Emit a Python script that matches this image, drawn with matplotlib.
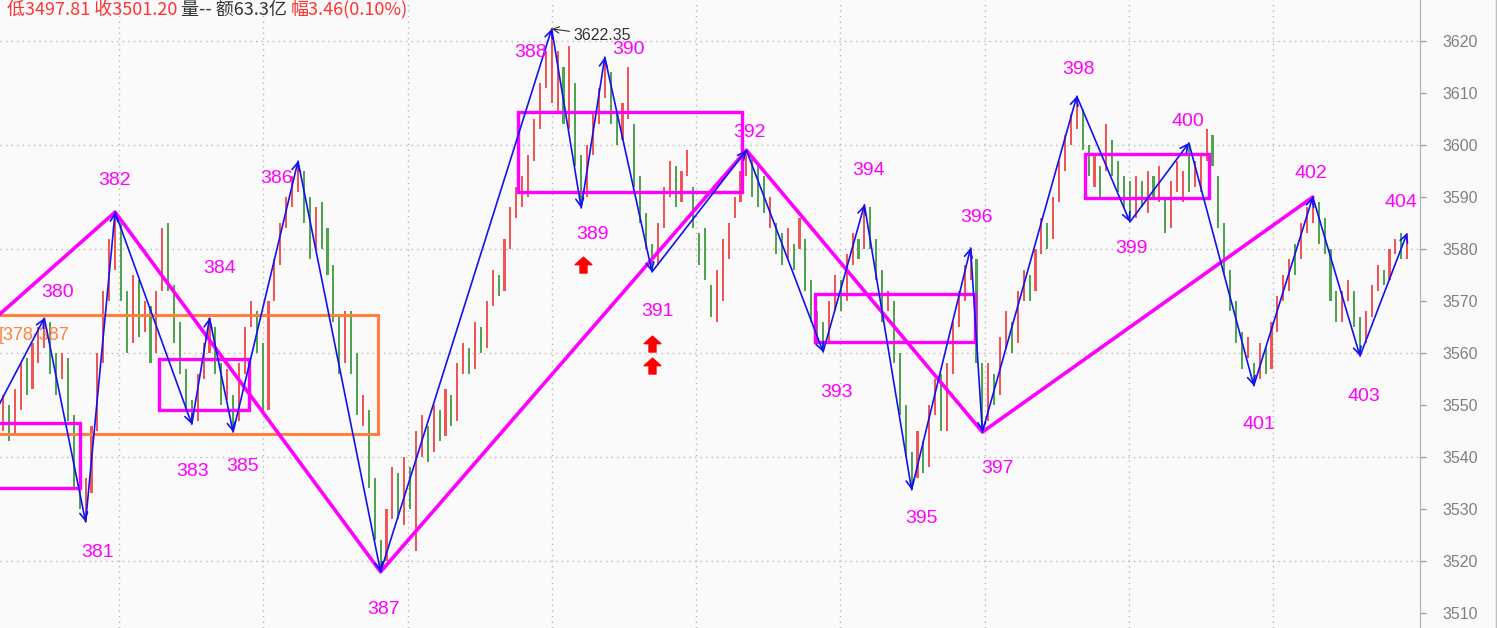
import matplotlib
matplotlib.use("Agg")
import matplotlib.pyplot as plt
from matplotlib.path import Path
from matplotlib.patches import Rectangle

plt.rcParams['font.family'] = ['Liberation Sans', 'DejaVu Sans']

# ---- price bars (open / close per bar) ----
opens = [
    3545, 3550, 3544, 3549, 3559, 3553, 3558, 3561,
    3566, 3560, 3555, 3559, 3548, 3537, 3527.5,
    3533, 3545, 3558, 3570, 3576,
    3585, 3572, 3562, 3574, 3564, 3569, 3560, 3572, 3585, 3573, 3566, 3557, 3551,
    3547, 3555, 3560, 3565, 3558, 3551, 3552,
    3547, 3556, 3565, 3568, 3562, 3549, 3570, 3577, 3584, 3588, 3591,
    3595, 3590, 3580, 3589, 3584, 3577, 3567, 3558, 3568, 3560, 3546, 3549, 3536, 3524,
    3520, 3528, 3537, 3527, 3538, 3522, 3540, 3546, 3541, 3549, 3544, 3552, 3547, 3556,
    3561, 3557, 3565, 3561, 3569, 3575, 3572, 3580, 3586, 3588, 3590, 3597, 3603, 3611, 3608,
    3606, 3615, 3603, 3612, 3598,
    3590, 3598, 3604, 3609,
    3614, 3606, 3601, 3605, 3604, 3594, 3587, 3581,
    3577, 3584, 3590, 3596, 3589, 3594, 3592, 3583, 3584, 3573, 3566, 3570, 3578, 3586, 3589, 3594,
    3598, 3596, 3594, 3584, 3585, 3583, 3578, 3581, 3580, 3582, 3574, 3568, 3566,
    3562, 3568, 3574, 3570, 3577, 3582, 3580,
    3588, 3582, 3576, 3568, 3570, 3560, 3550, 3541,
    3536, 3543, 3538, 3548, 3556, 3545, 3556, 3565, 3570, 3574,
    3578, 3558,
    3547, 3556, 3552, 3561, 3566, 3562, 3570, 3575, 3572, 3579, 3585, 3582, 3589, 3595, 3600, 3603,
    3607, 3600, 3592, 3596, 3595, 3601, 3597, 3594, 3593,
    3586, 3593, 3587, 3594, 3589, 3590, 3584, 3591, 3589, 3600.4,
    3592, 3591, 3597, 3602, 3594, 3585, 3576, 3570, 3564, 3559, 3558,
    3555, 3561, 3557, 3564, 3570, 3572, 3581, 3578, 3583, 3585,
    3589, 3586, 3580, 3572, 3566, 3570, 3572, 3567,
    3562, 3567, 3572, 3576, 3574, 3579, 3583, 3578,
]
closes = [
    3552, 3543, 3553, 3558, 3552, 3562, 3565, 3566.7,
    3556, 3552, 3560, 3547, 3534, 3530, 3536,
    3546, 3560, 3572, 3582, 3587.1,
    3570, 3560, 3575, 3563, 3570, 3558, 3572, 3584, 3572, 3562, 3556, 3549, 3546.3,
    3556, 3562, 3566.7, 3556, 3550, 3557, 3544.8,
    3558, 3565, 3570, 3560, 3548, 3570, 3578, 3585, 3590, 3594, 3596.9,
    3585, 3578, 3588, 3580, 3575, 3566, 3556, 3568, 3556, 3548, 3552, 3534, 3524, 3517.9,
    3530, 3538, 3528, 3540, 3530, 3545, 3548, 3539, 3550, 3543, 3553, 3546, 3558, 3562,
    3556, 3566, 3560, 3570, 3576, 3571, 3582, 3588, 3592, 3594, 3598, 3605, 3612, 3618, 3622.35,
    3618, 3604, 3619, 3596, 3587.9,
    3600, 3606, 3611, 3616.9,
    3604, 3600, 3608, 3615, 3592, 3585, 3580, 3575.6,
    3585, 3592, 3597, 3588, 3595, 3599, 3584, 3577, 3574, 3567, 3576, 3582, 3585, 3590, 3595, 3599.0,
    3590, 3588, 3587, 3590, 3579, 3577, 3584, 3576, 3586, 3572, 3566, 3562, 3560.2,
    3570, 3575, 3568, 3579, 3583, 3578, 3588.5,
    3580, 3574, 3566, 3572, 3558, 3548, 3540, 3533.7,
    3545, 3537, 3550, 3555, 3545, 3558, 3566, 3572, 3577, 3580.2,
    3558, 3544.8,
    3558, 3550, 3563, 3568, 3560, 3572, 3576, 3570, 3580, 3586, 3580, 3590, 3597, 3602, 3606, 3609.4,
    3599, 3594, 3598, 3590, 3604, 3594, 3591, 3588, 3585.2,
    3594, 3588, 3595, 3590, 3596, 3583, 3593, 3597, 3595, 3591,
    3597, 3598, 3603, 3596, 3584, 3575, 3568, 3562, 3557, 3563, 3553.7,
    3562, 3556, 3566, 3571, 3575, 3578, 3575, 3585, 3588, 3590.0,
    3581, 3579, 3570, 3566, 3572, 3574, 3565, 3559.4,
    3568, 3573, 3577, 3573, 3580, 3582, 3578, 3583.1,
]

# ---- wave pivots (thin zigzag) ----
pivot_idx = [-3, 7, 14, 19, 32, 35, 39, 50, 64, 93, 98, 102, 110, 126,
             139, 146, 154, 164, 166, 182, 191, 201, 212, 222, 230, 238]
pivot_val = [3545, 3566.7, 3527.5, 3587.1, 3546.3, 3566.7, 3544.8, 3596.9,
             3517.9, 3622.35, 3587.9, 3616.9, 3575.6, 3599.0, 3560.2, 3588.5,
             3533.7, 3580.2, 3544.8, 3609.4, 3585.2, 3600.4, 3553.7, 3590.0,
             3559.4, 3583.1]
pivot_names = ['', '380', '381', '382', '383', '384', '385', '386', '387',
               '388', '389', '390', '391', '392', '393', '394', '395', '396',
               '397', '398', '399', '400', '401', '402', '403', '404']

# ---- higher-degree trend line (thick zigzag) ----
trend_idx = [-3, 19, 64, 126, 166, 222]
trend_val = [3565, 3587.1, 3517.9, 3599.0, 3544.8, 3590.0]

# ---- consolidation boxes ----
box_start = [-2, 26.4, 87.3, 137.6, 183.4]
box_end = [13.1, 41.7, 125.3, 164.7, 204.4]
box_low = [3534.0, 3549.0, 3591.0, 3562.1, 3589.8]
box_high = [3546.5, 3558.8, 3606.3, 3571.3, 3598.3]

range_start, range_end = -5, 63.6
range_low, range_high = 3544.4, 3567.3
range_text = '[378-387'

# ---- buy signals ----
signal_idx = [98.3, 110, 110]
signal_val = [3576.9, 3561.7, 3557.5]

peak_text = '3622.35'
header_parts = ['低3497.81 收3501.20 ', '量-- 额63.3亿 ', '幅3.46(0.10%)']

# ---- layout helpers ----
W, H = 1497, 628
STEP = 5.9          # pixels per bar
X0 = 3              # pixel of bar 0
AX_RIGHT = 1420


def px_to_idx(px):
    return (px - X0) / STEP


label_offsets = [(0, 0), (13, 26), (12, -31), (-1, 32), (1, -47), (10, 50),
                 (9, -34), (-21, -17), (3, -38), (-21, -24), (11, -27),
                 (24, 8), (5, -40), (3, 18), (13, -41), (4, 34), (10, -29),
                 (6, 30), (15, -36), (2, 27), (2, -27), (-1, 21), (5, -39),
                 (-2, 24), (4, -40), (-6, 30)]

BG = '#fafafa'
RED = '#f05656'
GREEN = '#4fa54f'
MAGENTA = '#ff00ff'
BLUE = '#1212f0'
ORANGE = '#ff8040'

fig = plt.figure(figsize=(W / 100, H / 100), dpi=100, facecolor=BG)
ax = fig.add_axes([0, 0, AX_RIGHT / W, 1])
ax.set_facecolor(BG)
ax.set_xlim(px_to_idx(0), px_to_idx(AX_RIGHT))
ax.set_ylim(3507.1, 3627.9)

# grid
for v in range(3520, 3621, 20):
    ax.axhline(v, color='#b8b8b8', lw=1, ls=(0, (1, 3)), zorder=0)
for px in [119, 263, 408, 552, 696, 840, 985, 1129, 1273]:
    ax.axvline(px_to_idx(px), color='#b8b8b8', lw=1, ls=(0, (1, 3)), zorder=0)

# bars
idx = list(range(len(opens)))
lows = [min(o, c) for o, c in zip(opens, closes)]
spans = [abs(c - o) for o, c in zip(opens, closes)]
cols = [RED if c >= o else GREEN for o, c in zip(opens, closes)]
ax.bar(idx, spans, bottom=lows, width=0.36, color=cols, linewidth=0, zorder=2)

# boxes
ax.add_patch(Rectangle((range_start, range_low), range_end - range_start,
                       range_high - range_low, fill=False, ec=ORANGE, lw=2.2, zorder=3))
ax.text(px_to_idx(-1), 3563.3, range_text, color=ORANGE, fontsize=13,
        ha='left', va='center', zorder=4)
for x0, x1, lo, hi in zip(box_start, box_end, box_low, box_high):
    ax.add_patch(Rectangle((x0, lo), x1 - x0, hi - lo, fill=False,
                           ec=MAGENTA, lw=2.4, zorder=3))

# thick trend line
ax.plot(trend_idx, trend_val, color=MAGENTA, lw=2.6, zorder=4, solid_capstyle='round')

# thin wave zigzag with arrow heads
for k in range(len(pivot_idx) - 1):
    ax.annotate('', xy=(pivot_idx[k + 1], pivot_val[k + 1]),
                xytext=(pivot_idx[k], pivot_val[k]),
                arrowprops=dict(arrowstyle='->,head_length=0.55,head_width=0.28',
                                color=BLUE, lw=1.2, shrinkA=0, shrinkB=0),
                zorder=5)

# wave labels
for k in range(1, len(pivot_idx)):
    dxp, dyp = label_offsets[k]
    ax.annotate(pivot_names[k], xy=(pivot_idx[k], pivot_val[k]),
                xytext=(dxp, dyp), textcoords='offset pixels',
                ha='center', va='center', color=MAGENTA, fontsize=14, zorder=6)

# peak value note
ax.annotate(peak_text, xy=(pivot_idx[9], pivot_val[9]), xytext=(22, -7),
            textcoords='offset pixels', ha='left', va='center',
            color='#333333', fontsize=11.5,
            arrowprops=dict(arrowstyle='->', color='#333333', lw=0.8,
                            shrinkA=1, shrinkB=0), zorder=6)

# buy signal arrows
arrow_marker = Path([(0, 1), (1, 0.1), (0.42, 0.1), (0.42, -0.9),
                     (-0.42, -0.9), (-0.42, 0.1), (-1, 0.1), (0, 1)],
                    [Path.MOVETO] + [Path.LINETO] * 6 + [Path.CLOSEPOLY])
ax.plot(signal_idx, signal_val, ls='none', marker=arrow_marker, ms=12,
        color='#ff0000', mec='#ff0000', zorder=6)

# right price axis
ax.yaxis.tick_right()
ax.set_yticks(range(3510, 3621, 10))
ax.tick_params(axis='y', direction='out', length=4, width=1, color='#a0a0a0',
               labelcolor='#808080', labelsize=11.5, pad=12)
ax.set_xticks([])
for s in ['left', 'top', 'bottom']:
    ax.spines[s].set_visible(False)
ax.spines['right'].set_color('#b0b0b0')
fig.add_artist(plt.Line2D([1 - 1.5 / W] * 2, [0, 1], color='#c0c0c0', lw=1))

# header line
fig.canvas.draw()
renderer = fig.canvas.get_renderer()
hx = 7
header_colors = ['#ff3333', '#333333', '#ff3333']
for part, col in zip(header_parts, header_colors):
    t = fig.text(hx / W, 1 - 10 / H, part, color=col, fontsize=13,
                 family=['Noto Sans CJK SC', 'DejaVu Sans'], ha='left', va='center')
    bb = t.get_window_extent(renderer)
    hx += bb.width

fig.savefig('out.png', dpi=100, facecolor=BG)
